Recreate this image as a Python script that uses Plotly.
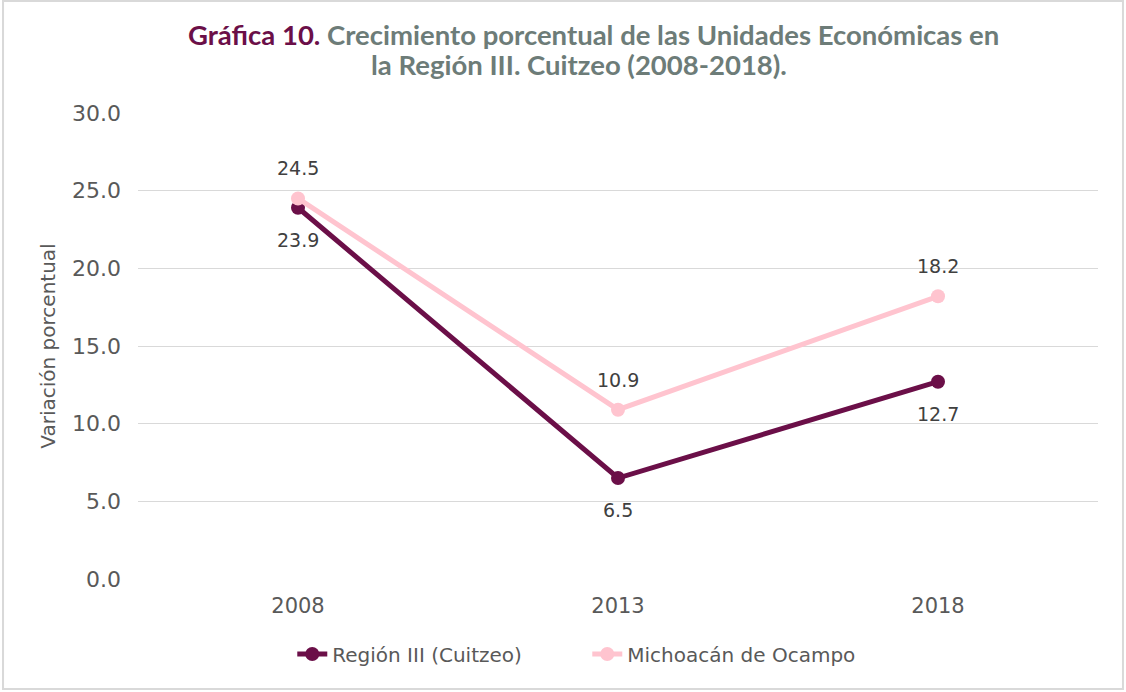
import plotly.graph_objects as go

anios = ["2008", "2013", "2018"]
region_iii = [23.9, 6.5, 12.7]
michoacan = [24.5, 10.9, 18.2]
y_ticks = [0, 5, 10, 15, 20, 25, 30]

vino = "#6B0F48"
rosa = "#FFC4CF"
gris_txt = "#595959"
fuente = "DejaVu Sans"
fuente_titulo = "Lato"

fig = go.Figure()

fig.add_trace(go.Scatter(
    x=anios, y=region_iii, name="Región III (Cuitzeo)",
    mode="lines+markers",
    line=dict(color=vino, width=5),
    marker=dict(size=14, color=vino),
))

fig.add_trace(go.Scatter(
    x=anios, y=michoacan, name="Michoacán de Ocampo",
    mode="lines+markers",
    line=dict(color=rosa, width=5),
    marker=dict(size=14, color=rosa),
))

# etiquetas de datos (x por indice de categoria)
for serie, desplaz in ((region_iii, -32), (michoacan, 30)):
    for i, v in enumerate(serie):
        fig.add_annotation(x=i, y=v, xref="x", yref="y", text=f"{v:.1f}", showarrow=False,
                           yshift=desplaz, font=dict(size=19, color="#404040", family=fuente))

fig.update_layout(
    width=1126, height=692,
    margin=dict(l=138, r=28, t=113, b=113),
    plot_bgcolor="white", paper_bgcolor="white",
    font=dict(family=fuente, color=gris_txt, size=20),
    showlegend=True,
    legend=dict(orientation="h", x=0.468, y=-0.161, xanchor="center", yanchor="middle",
                font=dict(size=20, color=gris_txt, family=fuente),
                entrywidth=250, entrywidthmode="pixels"),
    xaxis=dict(type="category", range=[-0.5, 2.5], showgrid=False, zeroline=False,
               showline=False, ticks="", ticklabelstandoff=12,
               tickfont=dict(size=21, color=gris_txt)),
    yaxis=dict(range=[0, 30], tickvals=y_ticks, tickformat=".1f",
               showgrid=True, gridcolor="#D9D9D9", gridwidth=1, zeroline=False,
               showline=False, ticks="", ticklabelstandoff=16,
               tickfont=dict(size=22, color=gris_txt),
               title=dict(text="Variación porcentual", standoff=11,
                          font=dict(size=20, color=gris_txt))),
)

fig.add_annotation(
    xref="paper", yref="paper", x=0.474, y=1.169, xanchor="center", yanchor="middle",
    showarrow=False,
    text="<b><span style='color:%s'>Gráfica 10.</span> Crecimiento porcentual de las Unidades Económicas en</b>" % vino,
    font=dict(size=27.5, color="#6D7C78", family=fuente_titulo),
)
fig.add_annotation(
    xref="paper", yref="paper", x=0.459, y=1.104, xanchor="center", yanchor="middle",
    showarrow=False,
    text="<b>la Región III. Cuitzeo (2008-2018).</b>",
    font=dict(size=27.5, color="#6D7C78", family=fuente_titulo),
)

fig.add_shape(type="rect", xref="paper", yref="paper",
              x0=-0.1406, x1=1.026, y0=-0.236, y1=1.2403,
              line=dict(color="#D9D9D9", width=2), fillcolor="rgba(0,0,0,0)", layer="below")

fig.write_html("out.html", config={"displayModeBar": False},
               post_script="document.body.style.margin='0';")
